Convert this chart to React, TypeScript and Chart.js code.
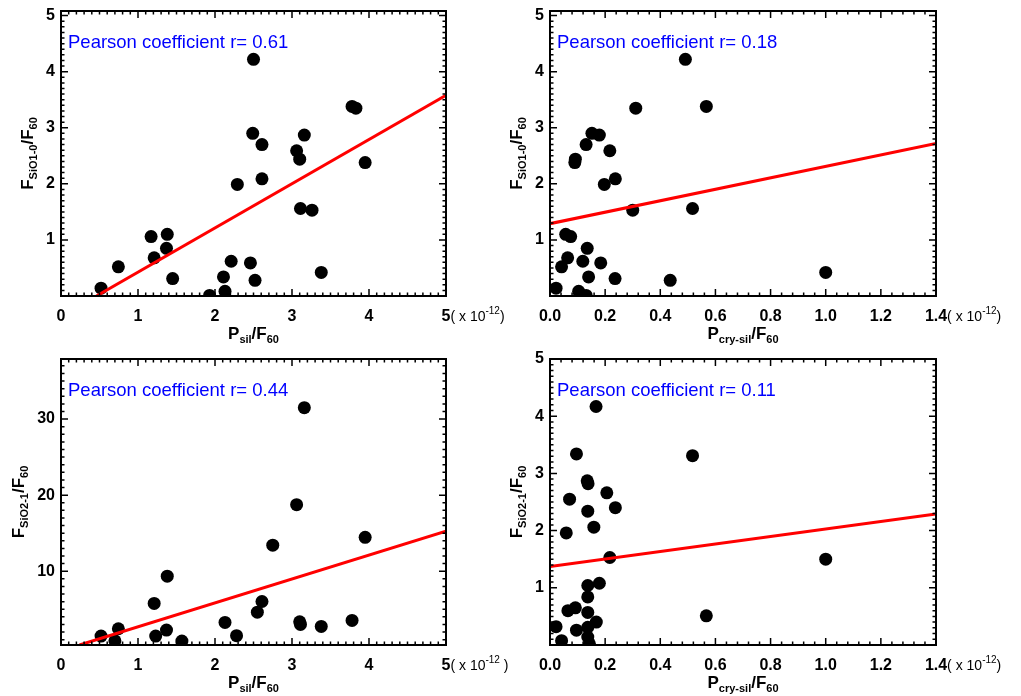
import React, { useEffect, useRef } from "react";
import { Chart, registerables } from "chart.js";
Chart.register(...registerables);
Chart.defaults.font.family = "Liberation Sans";

const CW = 1021;
const CH = 696;

// ---------- data ----------
// Panel A: F_SiO1-0/F60 vs P_sil/F60
const silA_x = [0.52, 0.745, 1.17, 1.38, 1.21, 1.37, 1.45, 1.93, 2.11, 2.13, 2.21, 2.29, 2.46, 2.52, 2.5, 2.49, 2.61, 2.61, 3.06, 3.1, 3.16, 3.11, 3.26, 3.38, 3.78, 3.83, 3.95];
const sio10A_y = [0.14, 0.52, 1.06, 1.1, 0.68, 0.85, 0.31, 0.01, 0.34, 0.085, 0.62, 1.99, 0.59, 0.28, 4.22, 2.9, 2.7, 2.09, 2.59, 2.44, 2.87, 1.56, 1.53, 0.42, 3.38, 3.35, 2.38];
const fitA_x = [0.46, 5.0];
const fitA_y = [0.0, 3.58];

// Panel B: F_SiO1-0/F60 vs P_cry-sil/F60
const cryB_x = [0.022, 0.042, 0.057, 0.075, 0.064, 0.092, 0.09, 0.104, 0.119, 0.131, 0.135, 0.14, 0.131, 0.152, 0.179, 0.184, 0.197, 0.217, 0.237, 0.236, 0.3, 0.311, 0.436, 0.491, 0.517, 0.567, 1.0];
const sio10B_y = [0.14, 0.52, 1.1, 1.06, 0.68, 2.44, 2.38, 0.085, 0.62, 2.7, 0.85, 0.34, 0.01, 2.9, 2.87, 0.59, 1.99, 2.59, 2.09, 0.31, 1.53, 3.35, 0.28, 4.22, 1.56, 3.38, 0.42];
const fitB_x = [0.0, 1.4];
const fitB_y = [1.29, 2.72];

// Panel C: F_SiO2-1/F60 vs P_sil/F60
const silC_x = [0.52, 0.7, 0.745, 1.21, 1.23, 1.38, 1.37, 1.57, 2.13, 2.28, 2.55, 2.61, 2.75, 3.06, 3.1, 3.11, 3.16, 3.38, 3.78, 3.95];
const sio21C_y = [1.47, 0.86, 2.44, 5.76, 1.47, 9.35, 2.26, 0.82, 3.27, 1.52, 4.62, 6.02, 13.42, 18.75, 3.35, 3.0, 31.5, 2.74, 3.53, 14.46];
const fitC_x = [0.24, 5.0];
const fitC_y = [0.3, 15.25];

// Panel D: F_SiO2-1/F60 vs P_cry-sil/F60
const cryD_x = [0.022, 0.042, 0.059, 0.065, 0.071, 0.092, 0.096, 0.096, 0.135, 0.138, 0.137, 0.137, 0.137, 0.137, 0.137, 0.137, 0.143, 0.159, 0.167, 0.168, 0.179, 0.206, 0.237, 0.217, 0.517, 0.567, 1.0];
const sio21D_y = [0.32, 0.075, 1.96, 0.6, 2.55, 0.65, 3.34, 0.26, 2.87, 2.82, 2.34, 1.04, 0.84, 0.57, 0.31, 0.14, 0.02, 2.06, 4.17, 0.4, 1.08, 2.66, 2.4, 1.53, 3.31, 0.51, 1.5];
const fitD_x = [0.0, 1.4];
const fitD_y = [1.37, 2.29];

const pearsonR = ["0.61", "0.18", "0.44", "0.11"];

// tick labels
const xTicksSil = [0, 1, 2, 3, 4, 5];
const xTicksCry = [0, 0.2, 0.4, 0.6, 0.8, 1.0, 1.2, 1.4];
const yTicksSiO10 = [1, 2, 3, 4, 5];
const yTicksSiO21C = [10, 20, 30];
const yTicksSiO21D = [1, 2, 3, 4, 5];

// ---------- layout ----------
const Y_AXIS_W = 50;
const X_AXIS_H = 40;
const MAIN_FONT = "bold 17px 'Liberation Sans'";
const SUB_FONT = "bold 11px 'Liberation Sans'";

type Part = { t: string; s?: number };

const titleSil: Part[] = [{ t: "P" }, { t: "sil", s: -1 }, { t: "/F" }, { t: "60", s: -1 }];
const titleCry: Part[] = [{ t: "P" }, { t: "cry-sil", s: -1 }, { t: "/F" }, { t: "60", s: -1 }];
const titleS10: Part[] = [{ t: "F" }, { t: "SiO1-0", s: -1 }, { t: "/F" }, { t: "60", s: -1 }];
const titleS21: Part[] = [{ t: "F" }, { t: "SiO2-1", s: -1 }, { t: "/F" }, { t: "60", s: -1 }];

const panels = [
  { area: { left: 61, top: 11, right: 446, bottom: 296 }, xs: silA_x, ys: sio10A_y, fx: fitA_x, fy: fitA_y, xMin: 0, xMax: 5, yMin: 0, yMax: 5, xTicks: xTicksSil, yTicks: yTicksSiO10, xMinor: 0.1, yMinor: 0.1, xDec: 0, r: pearsonR[0], close: ")", xTitle: titleSil, yTitle: titleS10, yTitleX: 33 },
  { area: { left: 550, top: 11, right: 936, bottom: 296 }, xs: cryB_x, ys: sio10B_y, fx: fitB_x, fy: fitB_y, xMin: 0, xMax: 1.4, yMin: 0, yMax: 5, xTicks: xTicksCry, yTicks: yTicksSiO10, xMinor: 0.04, yMinor: 0.1, xDec: 1, r: pearsonR[1], close: ")", xTitle: titleCry, yTitle: titleS10, yTitleX: 522 },
  { area: { left: 61, top: 359, right: 446, bottom: 645 }, xs: silC_x, ys: sio21C_y, fx: fitC_x, fy: fitC_y, xMin: 0, xMax: 5, yMin: 0.3, yMax: 37.9, xTicks: xTicksSil, yTicks: yTicksSiO21C, xMinor: 0.1, yMinor: 1, xDec: 0, r: pearsonR[2], close: " )", xTitle: titleSil, yTitle: titleS21, yTitleX: 24 },
  { area: { left: 550, top: 359, right: 936, bottom: 645 }, xs: cryD_x, ys: sio21D_y, fx: fitD_x, fy: fitD_y, xMin: 0, xMax: 1.4, yMin: 0, yMax: 5, xTicks: xTicksCry, yTicks: yTicksSiO21D, xMinor: 0.04, yMinor: 0.1, xDec: 1, r: pearsonR[3], close: ")", xTitle: titleCry, yTitle: titleS21, yTitleX: 522 },
];

function drawRich(ctx: CanvasRenderingContext2D, parts: Part[], x: number, y: number, big: string, small: string, align: "left" | "center", subDy = 4, supDy = -7) {
  ctx.textAlign = "left";
  ctx.textBaseline = "alphabetic";
  let total = 0;
  const widths = parts.map((p) => {
    ctx.font = p.s ? small : big;
    const w = ctx.measureText(p.t).width;
    total += w;
    return w;
  });
  let cx = align === "center" ? x - total / 2 : x;
  parts.forEach((p, i) => {
    ctx.font = p.s ? small : big;
    ctx.fillText(p.t, cx, y + (p.s === -1 ? subDy : p.s === 1 ? supDy : 0));
    cx += widths[i];
  });
}

function makeChart(canvas: HTMLCanvasElement, p: any) {
  const a = p.area;
  const idl = {
    id: "idl",
    afterDraw(chart: any) {
      const ctx: CanvasRenderingContext2D = chart.ctx;
      const xs = chart.scales.x;
      const ys = chart.scales.y;
      const L = a.left, R = a.right, T = a.top, B = a.bottom;
      ctx.save();
      ctx.strokeStyle = "#000";
      ctx.lineWidth = 1.5;
      const near = (v: number, arr: number[]) => arr.some((m) => Math.abs(m - v) < 1e-6);
      const nx0 = Math.ceil(p.xMin / p.xMinor - 1e-6), nx1 = Math.floor(p.xMax / p.xMinor + 1e-6);
      for (let i = nx0; i <= nx1; i++) {
        const v = i * p.xMinor;
        const len = near(v, p.xTicks) ? 7 : 3.5;
        const px = xs.getPixelForValue(v);
        ctx.beginPath();
        ctx.moveTo(px, B); ctx.lineTo(px, B - len);
        ctx.moveTo(px, T); ctx.lineTo(px, T + len);
        ctx.stroke();
      }
      const ny0 = Math.ceil(p.yMin / p.yMinor - 1e-6), ny1 = Math.floor(p.yMax / p.yMinor + 1e-6);
      for (let i = ny0; i <= ny1; i++) {
        const v = i * p.yMinor;
        const len = near(v, p.yTicks) ? 7 : 3.5;
        const py = ys.getPixelForValue(v);
        ctx.beginPath();
        ctx.moveTo(L, py); ctx.lineTo(L + len, py);
        ctx.moveTo(R, py); ctx.lineTo(R - len, py);
        ctx.stroke();
      }
      ctx.lineWidth = 2;
      ctx.strokeRect(L, T, R - L, B - T);

      ctx.fillStyle = "#0000ff";
      ctx.font = "18.5px 'Liberation Sans'";
      ctx.textAlign = "left";
      ctx.textBaseline = "alphabetic";
      ctx.fillText("Pearson coefficient r= " + p.r, L + 7, T + 37);

      ctx.fillStyle = "#000";
      ctx.font = "bold 16px 'Liberation Sans'";
      const lastLab = p.xDec ? p.xMax.toFixed(p.xDec) : String(p.xMax);
      const sx = xs.getPixelForValue(p.xMax) + ctx.measureText(lastLab).width / 2;
      drawRich(ctx, [{ t: "( x 10" }, { t: "-12", s: 1 }, { t: p.close }], sx, B + 25, "14px 'Liberation Sans'", "10px 'Liberation Sans'", "left", 4, -7);

      drawRich(ctx, p.xTitle, (L + R) / 2, B + 43, MAIN_FONT, SUB_FONT, "center");
      ctx.save();
      ctx.translate(p.yTitleX, (T + B) / 2);
      ctx.rotate(-Math.PI / 2);
      drawRich(ctx, p.yTitle, 0, 0, MAIN_FONT, SUB_FONT, "center");
      ctx.restore();
      ctx.restore();
    },
  };

  const tickFont = { family: "Liberation Sans", size: 16, weight: "bold" as const };
  return new Chart(canvas, {
    type: "scatter",
    data: {
      datasets: [
        {
          type: "line",
          data: p.fx.map((x: number, i: number) => ({ x, y: p.fy[i] })),
          borderColor: "#ff0000",
          borderWidth: 3,
          pointRadius: 0,
          fill: false,
          tension: 0,
        } as any,
        {
          type: "scatter",
          data: p.xs.map((x: number, i: number) => ({ x, y: p.ys[i] })),
          pointRadius: 6.5,
          pointHoverRadius: 6.5,
          pointBackgroundColor: "#000",
          pointBorderWidth: 0,
          borderWidth: 0,
          clip: 0,
        } as any,
      ],
    },
    options: {
      responsive: false,
      animation: false,
      devicePixelRatio: 1,
      events: [],
      layout: {
        padding: {
          left: a.left - Y_AXIS_W,
          top: a.top,
          right: CW - a.right,
          bottom: CH - a.bottom - X_AXIS_H,
        },
      },
      plugins: { legend: { display: false }, tooltip: { enabled: false }, title: { display: false } },
      scales: {
        x: {
          type: "linear",
          min: p.xMin,
          max: p.xMax,
          afterFit: (s: any) => { s.height = X_AXIS_H; },
          afterBuildTicks: (s: any) => { s.ticks = p.xTicks.map((v: number) => ({ value: v })); },
          ticks: {
            color: "#000",
            font: tickFont,
            padding: 11,
            maxRotation: 0,
            autoSkip: false,
            callback: (v: any) => (p.xDec ? Number(v).toFixed(p.xDec) : String(v)),
          },
          grid: { display: false, drawTicks: false },
          border: { display: false },
        },
        y: {
          type: "linear",
          min: p.yMin,
          max: p.yMax,
          afterFit: (s: any) => { s.width = Y_AXIS_W; },
          afterBuildTicks: (s: any) => { s.ticks = p.yTicks.map((v: number) => ({ value: v })); },
          ticks: {
            color: "#000",
            font: tickFont,
            padding: 6,
            autoSkip: false,
            callback: (v: any) => String(v),
          },
          grid: { display: false, drawTicks: false },
          border: { display: false },
        },
      },
    },
    plugins: [idl],
  } as any);
}

function Panel({ cfg }: { cfg: any }) {
  const ref = useRef<HTMLCanvasElement>(null);
  useEffect(() => {
    const chart = makeChart(ref.current as HTMLCanvasElement, cfg);
    return () => chart.destroy();
  }, []);
  return (
    <canvas
      ref={ref}
      width={CW}
      height={CH}
      style={{ position: "absolute", left: 0, top: 0, width: CW, height: CH }}
    />
  );
}

export default function App() {
  return (
    <div style={{ position: "absolute", left: 0, top: 0, width: CW, height: CH, background: "#fff", overflow: "hidden" }}>
      {panels.map((p, i) => (
        <Panel key={i} cfg={p} />
      ))}
    </div>
  );
}
